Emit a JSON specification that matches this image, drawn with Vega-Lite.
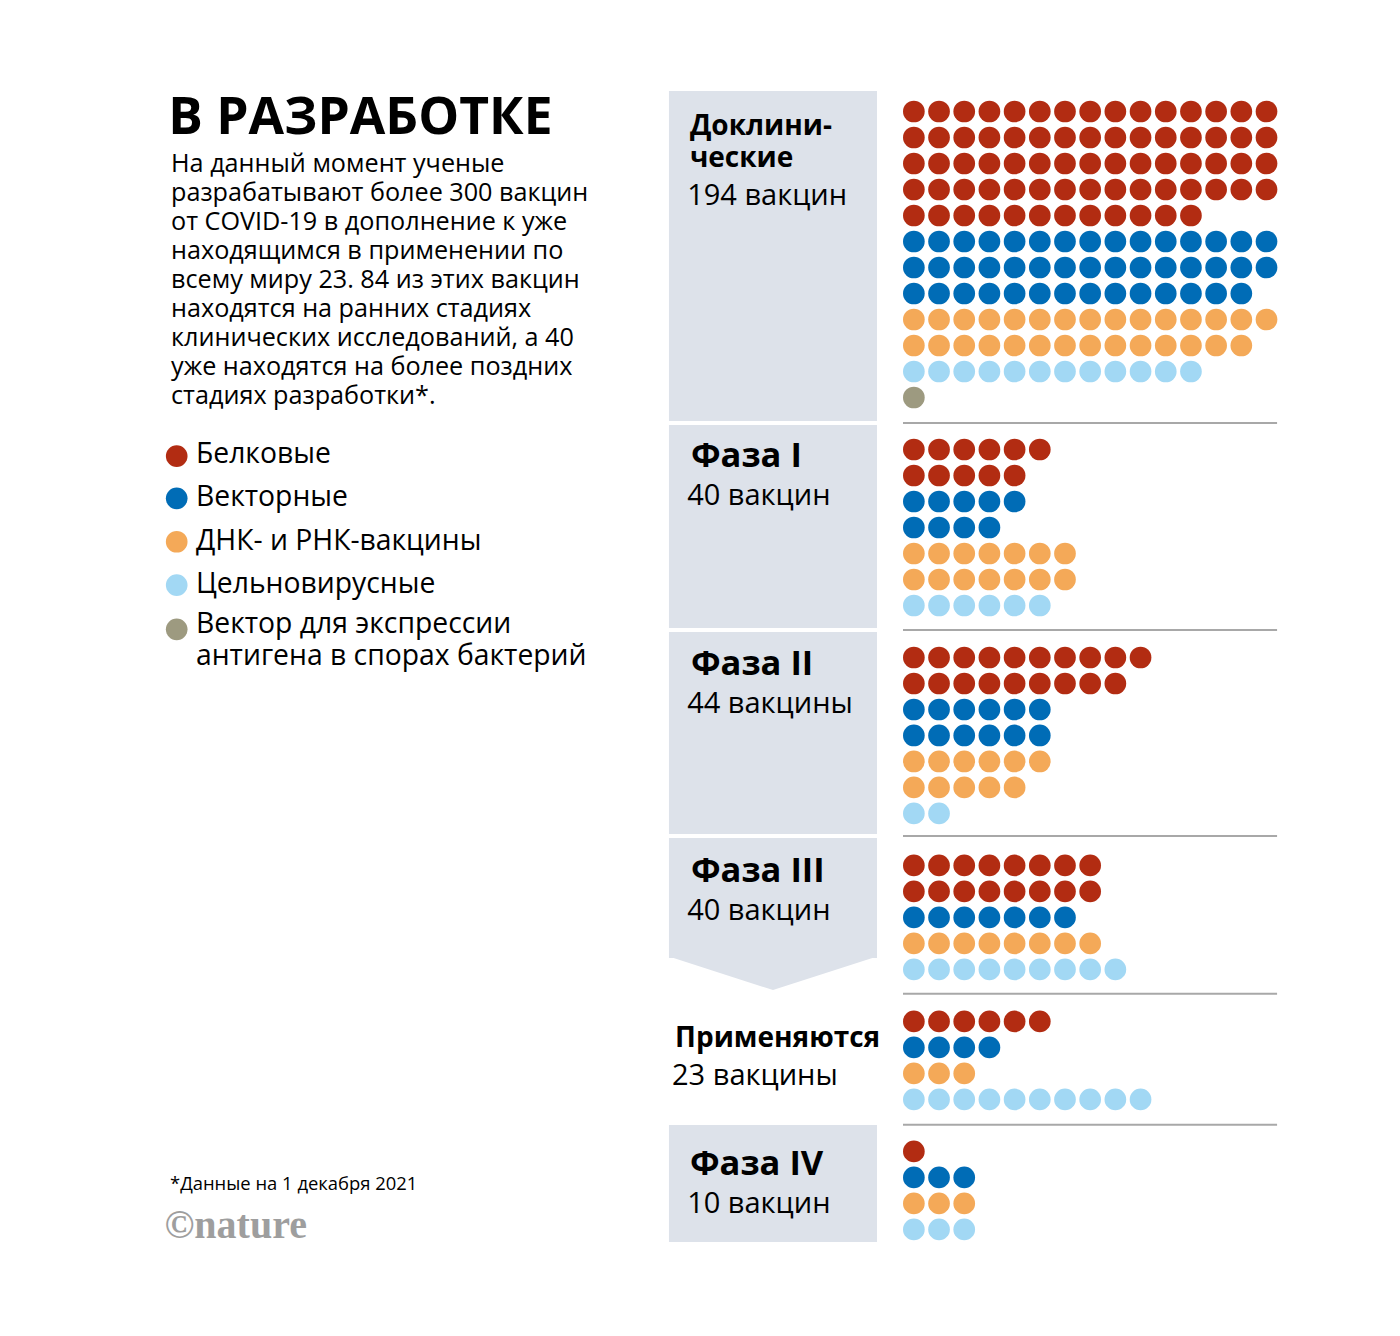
{
  "$schema": "https://vega.github.io/schema/vega-lite/v6.json",
  "width": 1400,
  "height": 1336,
  "autosize": {"type": "none"},
  "padding": 0,
  "background": "white",
  "config": {"view": {"stroke": null}},
  "datasets": {
    "rows": [
      {"row":0,"phase":"Доклинические","type":"Белковые"},
      {"row":1,"phase":"Доклинические","type":"Белковые"},
      {"row":2,"phase":"Доклинические","type":"Белковые"},
      {"row":3,"phase":"Доклинические","type":"Белковые"},
      {"row":4,"phase":"Доклинические","type":"Белковые"},
      {"row":5,"phase":"Доклинические","type":"Векторные"},
      {"row":6,"phase":"Доклинические","type":"Векторные"},
      {"row":7,"phase":"Доклинические","type":"Векторные"},
      {"row":8,"phase":"Доклинические","type":"ДНК- и РНК-вакцины"},
      {"row":9,"phase":"Доклинические","type":"ДНК- и РНК-вакцины"},
      {"row":10,"phase":"Доклинические","type":"Цельновирусные"},
      {"row":11,"phase":"Доклинические","type":"Вектор для экспрессии антигена в спорах бактерий"},
      {"row":13,"phase":"Фаза I","type":"Белковые"},
      {"row":14,"phase":"Фаза I","type":"Белковые"},
      {"row":15,"phase":"Фаза I","type":"Векторные"},
      {"row":16,"phase":"Фаза I","type":"Векторные"},
      {"row":17,"phase":"Фаза I","type":"ДНК- и РНК-вакцины"},
      {"row":18,"phase":"Фаза I","type":"ДНК- и РНК-вакцины"},
      {"row":19,"phase":"Фаза I","type":"Цельновирусные"},
      {"row":21,"phase":"Фаза II","type":"Белковые"},
      {"row":22,"phase":"Фаза II","type":"Белковые"},
      {"row":23,"phase":"Фаза II","type":"Векторные"},
      {"row":24,"phase":"Фаза II","type":"Векторные"},
      {"row":25,"phase":"Фаза II","type":"ДНК- и РНК-вакцины"},
      {"row":26,"phase":"Фаза II","type":"ДНК- и РНК-вакцины"},
      {"row":27,"phase":"Фаза II","type":"Цельновирусные"},
      {"row":29,"phase":"Фаза III","type":"Белковые"},
      {"row":30,"phase":"Фаза III","type":"Белковые"},
      {"row":31,"phase":"Фаза III","type":"Векторные"},
      {"row":32,"phase":"Фаза III","type":"ДНК- и РНК-вакцины"},
      {"row":33,"phase":"Фаза III","type":"Цельновирусные"},
      {"row":35,"phase":"Применяются","type":"Белковые"},
      {"row":36,"phase":"Применяются","type":"Векторные"},
      {"row":37,"phase":"Применяются","type":"ДНК- и РНК-вакцины"},
      {"row":38,"phase":"Применяются","type":"Цельновирусные"},
      {"row":40,"phase":"Фаза IV","type":"Белковые"},
      {"row":41,"phase":"Фаза IV","type":"Векторные"},
      {"row":42,"phase":"Фаза IV","type":"ДНК- и РНК-вакцины"},
      {"row":43,"phase":"Фаза IV","type":"Цельновирусные"}
    ],
    "dots": [
      {"row":0,"col":0},{"row":0,"col":1},{"row":0,"col":2},{"row":0,"col":3},{"row":0,"col":4},{"row":0,"col":5},{"row":0,"col":6},{"row":0,"col":7},{"row":0,"col":8},{"row":0,"col":9},{"row":0,"col":10},{"row":0,"col":11},{"row":0,"col":12},{"row":0,"col":13},{"row":0,"col":14},
      {"row":1,"col":0},{"row":1,"col":1},{"row":1,"col":2},{"row":1,"col":3},{"row":1,"col":4},{"row":1,"col":5},{"row":1,"col":6},{"row":1,"col":7},{"row":1,"col":8},{"row":1,"col":9},{"row":1,"col":10},{"row":1,"col":11},{"row":1,"col":12},{"row":1,"col":13},{"row":1,"col":14},
      {"row":2,"col":0},{"row":2,"col":1},{"row":2,"col":2},{"row":2,"col":3},{"row":2,"col":4},{"row":2,"col":5},{"row":2,"col":6},{"row":2,"col":7},{"row":2,"col":8},{"row":2,"col":9},{"row":2,"col":10},{"row":2,"col":11},{"row":2,"col":12},{"row":2,"col":13},{"row":2,"col":14},
      {"row":3,"col":0},{"row":3,"col":1},{"row":3,"col":2},{"row":3,"col":3},{"row":3,"col":4},{"row":3,"col":5},{"row":3,"col":6},{"row":3,"col":7},{"row":3,"col":8},{"row":3,"col":9},{"row":3,"col":10},{"row":3,"col":11},{"row":3,"col":12},{"row":3,"col":13},{"row":3,"col":14},
      {"row":4,"col":0},{"row":4,"col":1},{"row":4,"col":2},{"row":4,"col":3},{"row":4,"col":4},{"row":4,"col":5},{"row":4,"col":6},{"row":4,"col":7},{"row":4,"col":8},{"row":4,"col":9},{"row":4,"col":10},{"row":4,"col":11},
      {"row":5,"col":0},{"row":5,"col":1},{"row":5,"col":2},{"row":5,"col":3},{"row":5,"col":4},{"row":5,"col":5},{"row":5,"col":6},{"row":5,"col":7},{"row":5,"col":8},{"row":5,"col":9},{"row":5,"col":10},{"row":5,"col":11},{"row":5,"col":12},{"row":5,"col":13},{"row":5,"col":14},
      {"row":6,"col":0},{"row":6,"col":1},{"row":6,"col":2},{"row":6,"col":3},{"row":6,"col":4},{"row":6,"col":5},{"row":6,"col":6},{"row":6,"col":7},{"row":6,"col":8},{"row":6,"col":9},{"row":6,"col":10},{"row":6,"col":11},{"row":6,"col":12},{"row":6,"col":13},{"row":6,"col":14},
      {"row":7,"col":0},{"row":7,"col":1},{"row":7,"col":2},{"row":7,"col":3},{"row":7,"col":4},{"row":7,"col":5},{"row":7,"col":6},{"row":7,"col":7},{"row":7,"col":8},{"row":7,"col":9},{"row":7,"col":10},{"row":7,"col":11},{"row":7,"col":12},{"row":7,"col":13},
      {"row":8,"col":0},{"row":8,"col":1},{"row":8,"col":2},{"row":8,"col":3},{"row":8,"col":4},{"row":8,"col":5},{"row":8,"col":6},{"row":8,"col":7},{"row":8,"col":8},{"row":8,"col":9},{"row":8,"col":10},{"row":8,"col":11},{"row":8,"col":12},{"row":8,"col":13},{"row":8,"col":14},
      {"row":9,"col":0},{"row":9,"col":1},{"row":9,"col":2},{"row":9,"col":3},{"row":9,"col":4},{"row":9,"col":5},{"row":9,"col":6},{"row":9,"col":7},{"row":9,"col":8},{"row":9,"col":9},{"row":9,"col":10},{"row":9,"col":11},{"row":9,"col":12},{"row":9,"col":13},
      {"row":10,"col":0},{"row":10,"col":1},{"row":10,"col":2},{"row":10,"col":3},{"row":10,"col":4},{"row":10,"col":5},{"row":10,"col":6},{"row":10,"col":7},{"row":10,"col":8},{"row":10,"col":9},{"row":10,"col":10},{"row":10,"col":11},
      {"row":11,"col":0},
      {"row":13,"col":0},{"row":13,"col":1},{"row":13,"col":2},{"row":13,"col":3},{"row":13,"col":4},{"row":13,"col":5},
      {"row":14,"col":0},{"row":14,"col":1},{"row":14,"col":2},{"row":14,"col":3},{"row":14,"col":4},
      {"row":15,"col":0},{"row":15,"col":1},{"row":15,"col":2},{"row":15,"col":3},{"row":15,"col":4},
      {"row":16,"col":0},{"row":16,"col":1},{"row":16,"col":2},{"row":16,"col":3},
      {"row":17,"col":0},{"row":17,"col":1},{"row":17,"col":2},{"row":17,"col":3},{"row":17,"col":4},{"row":17,"col":5},{"row":17,"col":6},
      {"row":18,"col":0},{"row":18,"col":1},{"row":18,"col":2},{"row":18,"col":3},{"row":18,"col":4},{"row":18,"col":5},{"row":18,"col":6},
      {"row":19,"col":0},{"row":19,"col":1},{"row":19,"col":2},{"row":19,"col":3},{"row":19,"col":4},{"row":19,"col":5},
      {"row":21,"col":0},{"row":21,"col":1},{"row":21,"col":2},{"row":21,"col":3},{"row":21,"col":4},{"row":21,"col":5},{"row":21,"col":6},{"row":21,"col":7},{"row":21,"col":8},{"row":21,"col":9},
      {"row":22,"col":0},{"row":22,"col":1},{"row":22,"col":2},{"row":22,"col":3},{"row":22,"col":4},{"row":22,"col":5},{"row":22,"col":6},{"row":22,"col":7},{"row":22,"col":8},
      {"row":23,"col":0},{"row":23,"col":1},{"row":23,"col":2},{"row":23,"col":3},{"row":23,"col":4},{"row":23,"col":5},
      {"row":24,"col":0},{"row":24,"col":1},{"row":24,"col":2},{"row":24,"col":3},{"row":24,"col":4},{"row":24,"col":5},
      {"row":25,"col":0},{"row":25,"col":1},{"row":25,"col":2},{"row":25,"col":3},{"row":25,"col":4},{"row":25,"col":5},
      {"row":26,"col":0},{"row":26,"col":1},{"row":26,"col":2},{"row":26,"col":3},{"row":26,"col":4},
      {"row":27,"col":0},{"row":27,"col":1},
      {"row":29,"col":0},{"row":29,"col":1},{"row":29,"col":2},{"row":29,"col":3},{"row":29,"col":4},{"row":29,"col":5},{"row":29,"col":6},{"row":29,"col":7},
      {"row":30,"col":0},{"row":30,"col":1},{"row":30,"col":2},{"row":30,"col":3},{"row":30,"col":4},{"row":30,"col":5},{"row":30,"col":6},{"row":30,"col":7},
      {"row":31,"col":0},{"row":31,"col":1},{"row":31,"col":2},{"row":31,"col":3},{"row":31,"col":4},{"row":31,"col":5},{"row":31,"col":6},
      {"row":32,"col":0},{"row":32,"col":1},{"row":32,"col":2},{"row":32,"col":3},{"row":32,"col":4},{"row":32,"col":5},{"row":32,"col":6},{"row":32,"col":7},
      {"row":33,"col":0},{"row":33,"col":1},{"row":33,"col":2},{"row":33,"col":3},{"row":33,"col":4},{"row":33,"col":5},{"row":33,"col":6},{"row":33,"col":7},{"row":33,"col":8},
      {"row":35,"col":0},{"row":35,"col":1},{"row":35,"col":2},{"row":35,"col":3},{"row":35,"col":4},{"row":35,"col":5},
      {"row":36,"col":0},{"row":36,"col":1},{"row":36,"col":2},{"row":36,"col":3},
      {"row":37,"col":0},{"row":37,"col":1},{"row":37,"col":2},
      {"row":38,"col":0},{"row":38,"col":1},{"row":38,"col":2},{"row":38,"col":3},{"row":38,"col":4},{"row":38,"col":5},{"row":38,"col":6},{"row":38,"col":7},{"row":38,"col":8},{"row":38,"col":9},
      {"row":40,"col":0},
      {"row":41,"col":0},{"row":41,"col":1},{"row":41,"col":2},
      {"row":42,"col":0},{"row":42,"col":1},{"row":42,"col":2},
      {"row":43,"col":0},{"row":43,"col":1},{"row":43,"col":2}
    ],
    "panels": [
      {"phase":"Доклинические","top":-0.789,"bottom":11.905},
      {"phase":"Фаза I","top":12.059,"bottom":19.868},
      {"phase":"Фаза II","top":20.022,"bottom":27.792},
      {"phase":"Фаза III","top":27.946,"bottom":32.562},
      {"phase":"Фаза IV","top":38.985,"bottom":43.486}
    ],
    "arrow": [
      {"x":-9.722,"top":32.5,"bottom":32.5},
      {"x":-5.592,"top":32.5,"bottom":33.793},
      {"x":-1.463,"top":32.5,"bottom":32.5}
    ],
    "separators": [
      {"y":11.982},{"y":19.945},{"y":27.869},{"y":33.935},{"y":38.975}
    ],
    "legend": [
      {"type":"Белковые","label":"Белковые","cy":13.252,"ty":13.52},
      {"type":"Векторные","label":"Векторные","cy":14.879,"ty":15.17},
      {"type":"ДНК- и РНК-вакцины","label":"ДНК- и РНК-вакцины","cy":16.548,"ty":16.85},
      {"type":"Цельновирусные","label":"Цельновирусные","cy":18.214,"ty":18.51},
      {"type":"Вектор для экспрессии антигена в спорах бактерий","label":"Вектор для экспрессии\nантигена в спорах бактерий","cy":19.918,"ty":20.04}
    ],
    "boldLabels": [
      {"text":"Фаза I","x":-8.85,"y":13.66},
      {"text":"Фаза II","x":-8.85,"y":21.67},
      {"text":"Фаза III","x":-8.85,"y":29.64},
      {"text":"Фаза IV","x":-8.89,"y":40.91}
    ],
    "boldSmall": [
      {"text":"Доклини-\nческие","x":-8.89,"y":0.904},
      {"text":"Применяются","x":-9.48,"y":35.99}
    ],
    "counts": [
      {"text":"194 вакцин","x":-9.0,"y":3.59},
      {"text":"40 вакцин","x":-9.0,"y":15.14},
      {"text":"44 вакцины","x":-9.0,"y":23.14},
      {"text":"40 вакцин","x":-9.0,"y":31.1},
      {"text":"23 вакцины","x":-9.6,"y":37.45},
      {"text":"10 вакцин","x":-9.0,"y":42.38}
    ]
  },
  "layer": [
    {
      "data": {"name": "panels"},
      "mark": {"type": "rect", "color": "#dde2ea"},
      "encoding": {
        "x": {"datum": -9.722, "type": "quantitative", "scale": {"domain": [-36.28, 19.3], "nice": false, "zero": false}, "axis": null},
        "x2": {"datum": -1.463},
        "y": {"field": "top", "type": "quantitative", "scale": {"domain": [-4.29, 47.1], "reverse": true, "nice": false, "zero": false}, "axis": null},
        "y2": {"field": "bottom"}
      }
    },
    {
      "data": {"name": "arrow"},
      "mark": {"type": "area", "color": "#dde2ea", "orient": "vertical", "interpolate": "linear"},
      "encoding": {
        "x": {"field": "x", "type": "quantitative", "scale": {"domain": [-36.28, 19.3], "nice": false, "zero": false}, "axis": null},
        "y": {"field": "top", "type": "quantitative", "scale": {"domain": [-4.29, 47.1], "reverse": true, "nice": false, "zero": false}, "axis": null},
        "y2": {"field": "bottom"}
      }
    },
    {
      "data": {"name": "separators"},
      "mark": {"type": "rule", "color": "#a8a8a8", "strokeWidth": 2},
      "encoding": {
        "x": {"datum": -0.431, "type": "quantitative", "scale": {"domain": [-36.28, 19.3], "nice": false, "zero": false}, "axis": null},
        "x2": {"datum": 14.42},
        "y": {"field": "y", "type": "quantitative", "scale": {"domain": [-4.29, 47.1], "reverse": true, "nice": false, "zero": false}, "axis": null}
      }
    },
    {
      "data": {"name": "dots"},
      "transform": [
        {"lookup": "row", "from": {"data": {"name": "rows"}, "key": "row", "fields": ["phase", "type"]}}
      ],
      "mark": {"type": "circle", "size": 470, "opacity": 1},
      "encoding": {
        "x": {"field": "col", "type": "quantitative", "scale": {"domain": [-36.28, 19.3], "nice": false, "zero": false}, "axis": null},
        "y": {"field": "row", "type": "quantitative", "scale": {"domain": [-4.29, 47.1], "reverse": true, "nice": false, "zero": false}, "axis": null},
        "color": {
          "field": "type", "type": "nominal", "legend": null,
          "scale": {
            "domain": ["Белковые", "Векторные", "ДНК- и РНК-вакцины", "Цельновирусные", "Вектор для экспрессии антигена в спорах бактерий"],
            "range": ["#b22c12", "#006cb6", "#f4a958", "#a2d8f4", "#9d9a80"]
          }
        }
      }
    },
    {
      "data": {"name": "legend"},
      "mark": {"type": "circle", "size": 470, "opacity": 1},
      "encoding": {
        "x": {"datum": -29.265, "type": "quantitative", "scale": {"domain": [-36.28, 19.3], "nice": false, "zero": false}, "axis": null},
        "y": {"field": "cy", "type": "quantitative", "scale": {"domain": [-4.29, 47.1], "reverse": true, "nice": false, "zero": false}, "axis": null},
        "color": {"field": "type", "type": "nominal", "legend": null}
      }
    },
    {
      "data": {"name": "legend"},
      "mark": {"type": "text", "align": "left", "baseline": "alphabetic", "font": "Open Sans", "fontSize": 28.3, "lineHeight": 32, "lineBreak": "\n", "color": "#000000"},
      "encoding": {
        "x": {"datum": -28.5, "type": "quantitative", "scale": {"domain": [-36.28, 19.3], "nice": false, "zero": false}, "axis": null},
        "y": {"field": "ty", "type": "quantitative", "scale": {"domain": [-4.29, 47.1], "reverse": true, "nice": false, "zero": false}, "axis": null},
        "text": {"field": "label", "type": "nominal"}
      }
    },
    {
      "data": {"values": [{"text": "В РАЗРАБОТКЕ"}]},
      "mark": {"type": "text", "align": "left", "baseline": "alphabetic", "font": "Open Sans", "fontWeight": "bold", "fontSize": 51.5, "color": "#000000"},
      "encoding": {
        "x": {"datum": -29.6, "type": "quantitative", "scale": {"domain": [-36.28, 19.3], "nice": false, "zero": false}, "axis": null},
        "y": {"datum": 0.85, "type": "quantitative", "scale": {"domain": [-4.29, 47.1], "reverse": true, "nice": false, "zero": false}, "axis": null},
        "text": {"field": "text", "type": "nominal"}
      }
    },
    {
      "data": {"values": [{"text": "На данный момент ученые\nразрабатывают более 300 вакцин\nот COVID-19 в дополнение к уже\nнаходящимся в применении по\nвсему миру 23. 84 из этих вакцин\nнаходятся на ранних стадиях\nклинических исследований, а 40\nуже находятся на более поздних\nстадиях разработки*."}]},
      "mark": {"type": "text", "align": "left", "baseline": "alphabetic", "font": "Open Sans", "fontSize": 25.2, "lineHeight": 29.1, "lineBreak": "\n", "color": "#000000"},
      "encoding": {
        "x": {"datum": -29.49, "type": "quantitative", "scale": {"domain": [-36.28, 19.3], "nice": false, "zero": false}, "axis": null},
        "y": {"datum": 2.31, "type": "quantitative", "scale": {"domain": [-4.29, 47.1], "reverse": true, "nice": false, "zero": false}, "axis": null},
        "text": {"field": "text", "type": "nominal"}
      }
    },
    {
      "data": {"values": [{"text": "*Данные на 1 декабря 2021"}]},
      "mark": {"type": "text", "align": "left", "baseline": "alphabetic", "font": "Open Sans", "fontSize": 18.4, "color": "#000000"},
      "encoding": {
        "x": {"datum": -29.53, "type": "quantitative", "scale": {"domain": [-36.28, 19.3], "nice": false, "zero": false}, "axis": null},
        "y": {"datum": 41.49, "type": "quantitative", "scale": {"domain": [-4.29, 47.1], "reverse": true, "nice": false, "zero": false}, "axis": null},
        "text": {"field": "text", "type": "nominal"}
      }
    },
    {
      "data": {"values": [{"text": "©nature"}]},
      "mark": {"type": "text", "align": "left", "baseline": "alphabetic", "font": "Liberation Serif", "fontWeight": "bold", "fontSize": 40, "color": "#9e9e9e"},
      "encoding": {
        "x": {"datum": -29.75, "type": "quantitative", "scale": {"domain": [-36.28, 19.3], "nice": false, "zero": false}, "axis": null},
        "y": {"datum": 43.33, "type": "quantitative", "scale": {"domain": [-4.29, 47.1], "reverse": true, "nice": false, "zero": false}, "axis": null},
        "text": {"field": "text", "type": "nominal"}
      }
    },
    {
      "data": {"name": "boldLabels"},
      "mark": {"type": "text", "align": "left", "baseline": "alphabetic", "font": "Open Sans", "fontWeight": "bold", "fontSize": 34.5, "color": "#000000"},
      "encoding": {
        "x": {"field": "x", "type": "quantitative", "scale": {"domain": [-36.28, 19.3], "nice": false, "zero": false}, "axis": null},
        "y": {"field": "y", "type": "quantitative", "scale": {"domain": [-4.29, 47.1], "reverse": true, "nice": false, "zero": false}, "axis": null},
        "text": {"field": "text", "type": "nominal"}
      }
    },
    {
      "data": {"name": "boldSmall"},
      "mark": {"type": "text", "align": "left", "baseline": "alphabetic", "font": "Open Sans", "fontWeight": "bold", "fontSize": 28, "lineHeight": 32, "lineBreak": "\n", "color": "#000000"},
      "encoding": {
        "x": {"field": "x", "type": "quantitative", "scale": {"domain": [-36.28, 19.3], "nice": false, "zero": false}, "axis": null},
        "y": {"field": "y", "type": "quantitative", "scale": {"domain": [-4.29, 47.1], "reverse": true, "nice": false, "zero": false}, "axis": null},
        "text": {"field": "text", "type": "nominal"}
      }
    },
    {
      "data": {"name": "counts"},
      "mark": {"type": "text", "align": "left", "baseline": "alphabetic", "font": "Open Sans", "fontSize": 29, "color": "#000000"},
      "encoding": {
        "x": {"field": "x", "type": "quantitative", "scale": {"domain": [-36.28, 19.3], "nice": false, "zero": false}, "axis": null},
        "y": {"field": "y", "type": "quantitative", "scale": {"domain": [-4.29, 47.1], "reverse": true, "nice": false, "zero": false}, "axis": null},
        "text": {"field": "text", "type": "nominal"}
      }
    }
  ]
}
